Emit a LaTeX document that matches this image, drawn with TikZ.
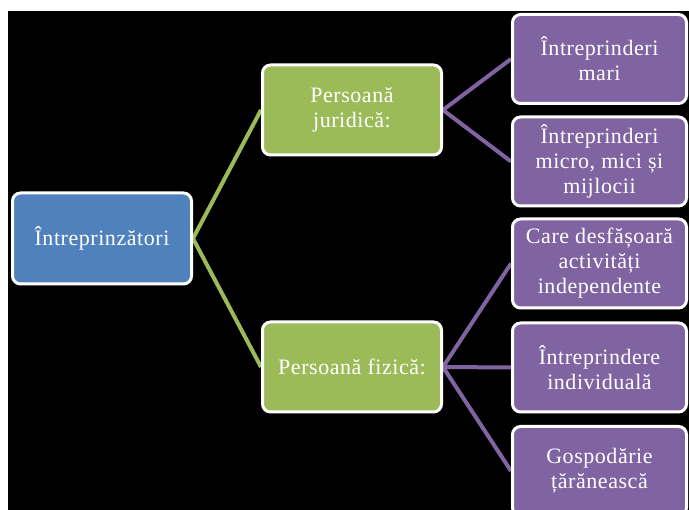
\documentclass[tikz,border=0pt]{standalone}
\usepackage{fontspec}
\setmainfont{Liberation Serif}[LetterSpace=2.5]
\begin{document}
\begin{tikzpicture}[x=1pt,y=-1pt,
  box/.style={rounded corners=8pt, draw=white, line width=3pt, text=white,
    align=center, font=\fontsize{22}{25}\selectfont, inner sep=0pt},
  rootbox/.style={box, fill=rootblue, minimum width=179pt, minimum height=91pt},
  midbox/.style={box, fill=midgreen, minimum width=179pt, minimum height=90pt},
  leafbox/.style={box, fill=leafpurple, minimum width=174pt, minimum height=89pt},
  gline/.style={draw=midgreen, line width=4pt},
  pline/.style={draw=leafpurple, line width=4pt}]
\definecolor{rootblue}{HTML}{4F81BD}
\definecolor{midgreen}{HTML}{9BBB59}
\definecolor{leafpurple}{HTML}{8064A2}
\clip (0,0) rectangle (689,510);
\fill[white] (0,0) rectangle (689,510);
\fill[black] (8,11) rectangle (689,510);
% lines
\coordinate (r) at (193,238.5);
\coordinate (j) at (443,110);
\coordinate (f) at (443,367);
\coordinate (jw) at (261,110);
\coordinate (fw) at (261,367);
\coordinate (l1) at (511,59);
\coordinate (l2) at (511,161.5);
\coordinate (l3) at (511,263.5);
\coordinate (l4) at (511,367.5);
\coordinate (l5) at (511,471);
\draw[gline] (jw) -- (r) -- (fw);
\draw[pline] (l1) -- (j) -- (l2);
\draw[pline] (l3) -- (f) -- (l5);
\draw[pline] (f) -- (l4);
% nodes
\node[rootbox] (root) at (102,238.5) {Întreprinzători};
\node[midbox] (pj) at (352,110) {Persoană\\juridică:};
\node[midbox] (pf) at (352,367) {Persoană fizică:};
\node[leafbox] (a) at (599.5,59) {Întreprinderi\\mari};
\node[leafbox] (b) at (599.5,161.5) {Întreprinderi\\micro, mici și\\mijlocii};
\node[leafbox] (c) at (599.5,263.5) {Care desfășoară\\activități\\independente};
\node[leafbox] (d) at (599.5,367.5) {Întreprindere\\individuală};
\node[leafbox] (e) at (599.5,471) {Gospodărie\\țărănească};
\end{tikzpicture}
\end{document}
